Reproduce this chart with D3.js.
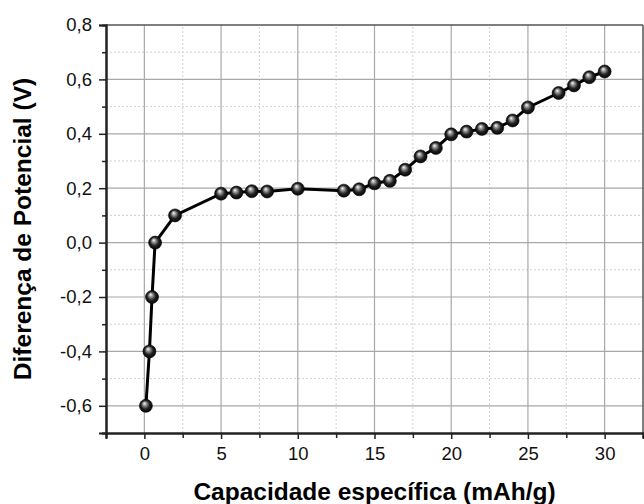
<!DOCTYPE html>
<html lang="pt">
<head>
<meta charset="UTF-8">
<title>Diferença de Potencial</title>
<style>
  body { margin: 0; background: #fff; }
  svg { display: block; font-family: "Liberation Sans", Arial, sans-serif; }
</style>
</head>
<body>
<div id="chart"></div>
<script src="https://d3js.org/d3.v7.min.js"></script>
<script>
// capacity (mAh/g) and potential (V)
const capacidade = [0.1, 0.33, 0.5, 0.7, 2, 5, 6, 7, 8, 10, 13, 14, 15, 16, 17, 18, 19, 20, 21, 22, 23, 24, 25, 27, 28, 29, 30];
const potencial = [-0.6, -0.4, -0.2, 0.0, 0.1, 0.18, 0.184, 0.189, 0.188, 0.198, 0.191, 0.196, 0.218, 0.227, 0.268, 0.317, 0.348, 0.398, 0.408, 0.418, 0.422, 0.449, 0.497, 0.55, 0.578, 0.608, 0.629];
const xMajor = [0, 5, 10, 15, 20, 25, 30];
const xMinor = [-2.5, 2.5, 7.5, 12.5, 17.5, 22.5, 27.5, 32.5];
const yMajor = [-0.6, -0.4, -0.2, 0.0, 0.2, 0.4, 0.6, 0.8];
const yMinor = [-0.7, -0.5, -0.3, -0.1, 0.1, 0.3, 0.5, 0.7];

const W = 644, H = 504;
const m = {left: 106, right: 1, top: 25, bottom: 71};

const svg = d3.select("#chart").append("svg")
  .attr("width", W).attr("height", H);

const x = d3.scaleLinear().domain([-2.5, 32.5]).range([m.left, W - m.right]);
const y = d3.scaleLinear().domain([-0.7, 0.8]).range([H - m.bottom, m.top]);

const fmt = d3.format(".1f");
const comma = v => fmt(v).replace(".", ",").replace("\u2212", "-");

// gradient for the ball markers
const defs = svg.append("defs");
const grad = defs.append("radialGradient").attr("id", "ball")
  .attr("cx", "50%").attr("cy", "50%").attr("r", "55%")
  .attr("fx", "38%").attr("fy", "30%");
grad.append("stop").attr("offset", "0%").attr("stop-color", "#ffffff");
grad.append("stop").attr("offset", "25%").attr("stop-color", "#9a9a9a");
grad.append("stop").attr("offset", "60%").attr("stop-color", "#222");
grad.append("stop").attr("offset", "100%").attr("stop-color", "#000");

// grid
const grid = svg.append("g");
grid.selectAll(".vmin").data(xMinor.filter(d => d > -2.5 && d < 32.5)).enter().append("line")
  .attr("x1", d => x(d)).attr("x2", d => x(d))
  .attr("y1", y(-0.7)).attr("y2", y(0.8))
  .attr("stroke", "#cfcfcf").attr("stroke-dasharray", "2,2");
grid.selectAll(".hmin").data(yMinor.filter(d => d > -0.7)).enter().append("line")
  .attr("x1", x(-2.5)).attr("x2", x(32.5))
  .attr("y1", d => y(d)).attr("y2", d => y(d))
  .attr("stroke", "#cfcfcf").attr("stroke-dasharray", "2,2");
grid.selectAll(".vmaj").data(xMajor).enter().append("line")
  .attr("x1", d => x(d)).attr("x2", d => x(d))
  .attr("y1", y(-0.7)).attr("y2", y(0.8))
  .attr("stroke", "#a8a8a8").attr("stroke-width", 1.2);
grid.selectAll(".hmaj").data(yMajor.filter(d => d < 0.8)).enter().append("line")
  .attr("x1", x(-2.5)).attr("x2", x(32.5))
  .attr("y1", d => y(d)).attr("y2", d => y(d))
  .attr("stroke", "#a8a8a8").attr("stroke-width", 1.2);

// frame top / right
svg.append("line").attr("x1", x(-2.5)).attr("x2", x(32.5)).attr("y1", y(0.8)).attr("y2", y(0.8))
  .attr("stroke", "#555").attr("stroke-width", 1.5);
svg.append("line").attr("x1", x(32.5)).attr("x2", x(32.5)).attr("y1", y(0.8)).attr("y2", y(-0.7))
  .attr("stroke", "#555").attr("stroke-width", 1.5);

// axes
const xAxis = svg.append("g").attr("transform", "translate(0," + y(-0.7) + ")")
  .call(d3.axisBottom(x).tickValues(xMajor).tickSize(6).tickPadding(8).tickFormat(d3.format("d")));
const xAxisMinor = svg.append("g").attr("transform", "translate(0," + y(-0.7) + ")")
  .call(d3.axisBottom(x).tickValues(xMinor).tickSize(5).tickFormat(""));
const yAxis = svg.append("g").attr("transform", "translate(" + x(-2.5) + ",0)")
  .call(d3.axisLeft(y).tickValues(yMajor).tickSize(7).tickPadding(7).tickFormat(comma));
const yAxisMinor = svg.append("g").attr("transform", "translate(" + x(-2.5) + ",0)")
  .call(d3.axisLeft(y).tickValues(yMinor).tickSize(4).tickFormat(""));

[xAxis, xAxisMinor, yAxis, yAxisMinor].forEach(a => {
  a.select(".domain").attr("stroke", "#222").attr("stroke-width", 2);
  a.selectAll(".tick line").attr("stroke", "#222").attr("stroke-width", 1.5);
  a.selectAll("text").attr("font-size", 18.5).attr("fill", "#111")
    .attr("font-family", '"Liberation Sans", Arial, sans-serif');
});

// data line and markers
const pts = capacidade.map((c, i) => [c, potencial[i]]);
svg.append("path").datum(pts)
  .attr("fill", "none").attr("stroke", "#000").attr("stroke-width", 3)
  .attr("d", d3.line().x(d => x(d[0])).y(d => y(d[1])));
svg.selectAll(".pt").data(pts).enter().append("circle")
  .attr("cx", d => x(d[0])).attr("cy", d => y(d[1])).attr("r", 6.5)
  .attr("fill", "url(#ball)").attr("stroke", "#000").attr("stroke-width", 0.6);

// titles
svg.append("text")
  .attr("x", (x(-2.5) + x(32.5)) / 2).attr("y", 500)
  .attr("text-anchor", "middle").attr("font-weight", "bold").attr("font-size", 24.5).attr("fill", "#000")
  .text("Capacidade específica (mAh/g)");
svg.append("text")
  .attr("transform", "translate(31," + 229 + ") rotate(-90)")
  .attr("text-anchor", "middle").attr("font-weight", "bold").attr("font-size", 24.5).attr("fill", "#000")
  .text("Diferença de Potencial (V)");
</script>
</body>
</html>
